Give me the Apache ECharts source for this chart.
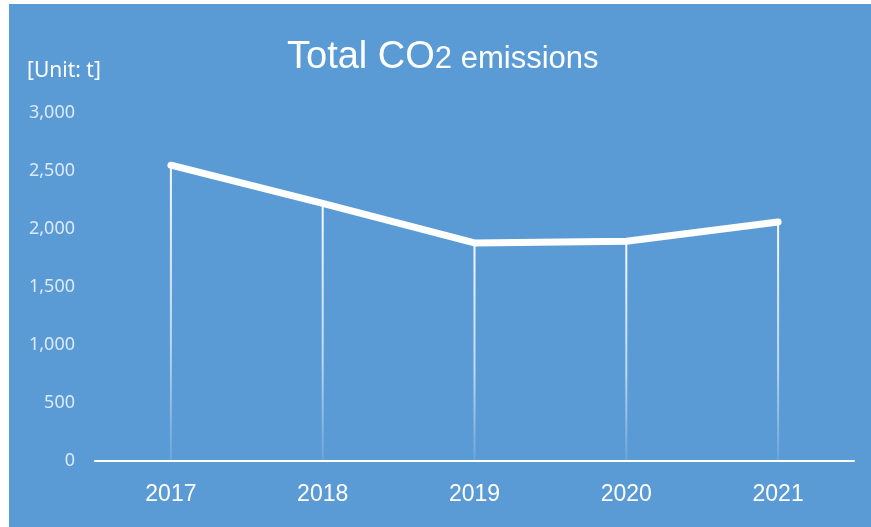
<!DOCTYPE html>
<html>
<head>
<meta charset="utf-8">
<script src="https://cdn.jsdelivr.net/npm/echarts@6/dist/echarts.min.js"></script>
<style>
  html, body { margin: 0; padding: 0; background: #ffffff; }
  #main {
    width: 871px; height: 527px;
    background: linear-gradient(#5b9bd5, #5b9bd5) 9px 4px / 862px 523px no-repeat, #ffffff;
  }
</style>
</head>
<body>
<div id="main"></div>
<script>
// Data
const years = ['2017', '2018', '2019', '2020', '2021'];
const emissions = [2550, 2220, 1880, 1895, 2060];
const yTicks = [0, 500, 1000, 1500, 2000, 2500, 3000];
const titleMain = 'Total CO';
const titleSub = '2';
const titleRest = ' emissions';
const unitLabel = '[Unit: t]';

const chart = echarts.init(document.getElementById('main'), null, { renderer: 'canvas' });

const option = {
  backgroundColor: 'transparent',
  animation: false,
  title: {
    text: '{a|' + titleMain + '}{b|' + titleSub + titleRest + '}',
    left: 287,
    top: 37,
    padding: 0,
    textStyle: {
      fontWeight: 'normal',
      rich: {
        a: { fontFamily: 'Liberation Sans, Arial, sans-serif', fontWeight: 'normal', fontSize: 38, color: '#ffffff', verticalAlign: 'bottom', lineHeight: 40 },
        b: { fontFamily: 'Liberation Sans, Arial, sans-serif', fontWeight: 'normal', fontSize: 31, color: '#ffffff', verticalAlign: 'bottom', lineHeight: 40, padding: [0, 0, 2, 0] }
      }
    }
  },
  graphic: [{
    type: 'text',
    left: 27,
    top: 61,
    style: {
      text: unitLabel,
      fill: '#ffffff',
      font: '21px "Noto Sans", sans-serif'
    }
  }],
  grid: { left: 95, right: 17, top: 113, bottom: 66, containLabel: false },
  xAxis: {
    type: 'category',
    data: years,
    boundaryGap: true,
    axisLine: { show: true, lineStyle: { color: '#ffffff', width: 2 } },
    axisTick: { show: false },
    axisLabel: {
      color: '#ffffff',
      fontFamily: 'Liberation Sans, Arial, sans-serif',
      fontSize: 23,
      margin: 22
    },
    splitLine: { show: false }
  },
  yAxis: {
    type: 'value',
    min: yTicks[0],
    max: yTicks[yTicks.length - 1],
    interval: yTicks[1] - yTicks[0],
    axisLine: { show: false },
    axisTick: { show: false },
    splitLine: { show: false },
    axisLabel: {
      color: '#dce9f7',
      fontFamily: '"Noto Sans", sans-serif',
      fontSize: 18,
      margin: 20,
      formatter: function (v) { return v.toLocaleString('en-US'); }
    }
  },
  series: [
    {
      type: 'bar',
      data: emissions,
      barWidth: 2,
      silent: true,
      z: 1,
      itemStyle: {
        color: new echarts.graphic.LinearGradient(0, 0, 0, 1, [
          { offset: 0, color: 'rgba(255,255,255,0.95)' },
          { offset: 0.6, color: 'rgba(255,255,255,0.6)' },
          { offset: 1, color: 'rgba(255,255,255,0.1)' }
        ])
      }
    },
    {
      type: 'line',
      data: emissions,
      showSymbol: false,
      symbol: 'none',
      z: 3,
      lineStyle: { color: '#ffffff', width: 7, cap: 'round', join: 'round' }
    }
  ]
};

chart.setOption(option);
</script>
</body>
</html>
